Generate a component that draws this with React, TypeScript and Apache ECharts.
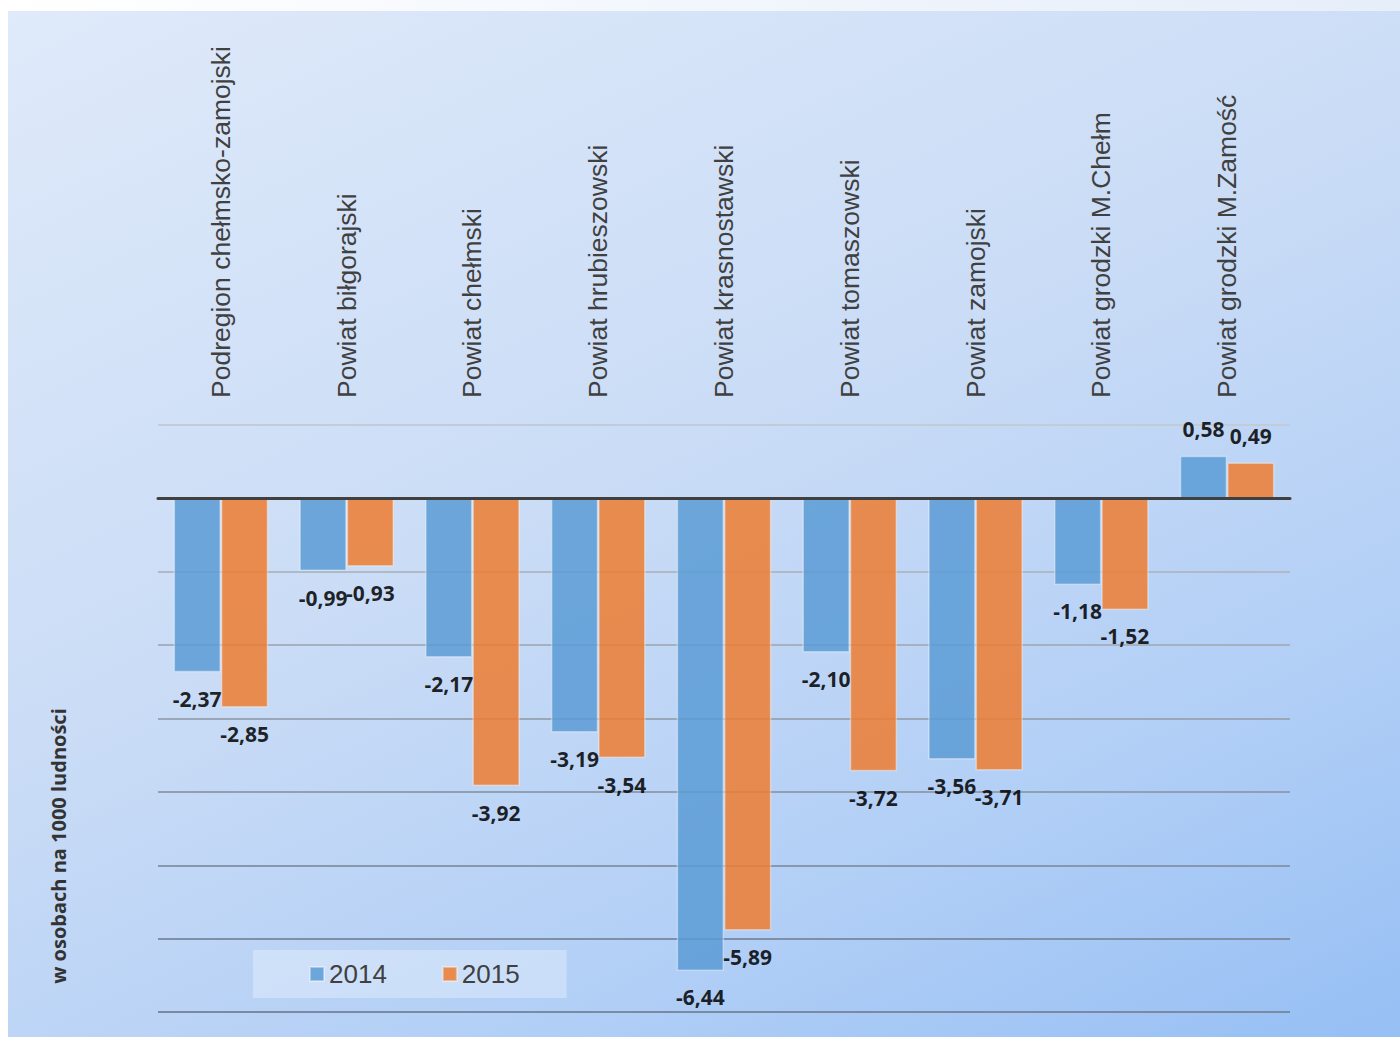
import React, { useEffect, useRef } from "react";
import * as echarts from "echarts";

const categories = [
  "Podregion chełmsko-zamojski",
  "Powiat biłgorajski",
  "Powiat chełmski",
  "Powiat hrubieszowski",
  "Powiat krasnostawski",
  "Powiat tomaszowski",
  "Powiat zamojski",
  "Powiat grodzki M.Chełm",
  "Powiat grodzki M.Zamość",
];
const values2014 = [-2.37, -0.99, -2.17, -3.19, -6.44, -2.1, -3.56, -1.18, 0.58];
const values2015 = [-2.85, -0.93, -3.92, -3.54, -5.89, -3.72, -3.71, -1.52, 0.49];
const seriesNames = ["2014", "2015"];
const yAxisTitle = "w osobach na 1000 ludności";

const fmt = (v: number) => v.toFixed(2).replace(".", ",");

export default function App() {
  const ref = useRef<HTMLDivElement>(null);
  useEffect(() => {
    document.body.style.margin = "0";
    document.body.style.overflow = "hidden";
    const chart = echarts.init(ref.current!, undefined, { renderer: "svg" });
    const labelCfg = {
      show: true,
      position: "outside",
      distance: 16,
      color: "#000",
      fontFamily: "Open Sans",
      fontWeight: 700,
      fontSize: 21,
      formatter: (p: any) => fmt(p.value),
    };
    chart.setOption({
      animation: false,
      backgroundColor: "transparent",
      grid: { left: 150, right: 110, top: 414, bottom: 25 },
      legend: {
        left: 245,
        top: 939,
        data: seriesNames,
        itemWidth: 14,
        itemHeight: 14,
        itemGap: 55,
        padding: [11, 47, 11, 56],
        backgroundColor: "rgba(255,255,255,0.3)",
        textStyle: { fontFamily: "Liberation Sans", fontSize: 26, color: "#404040" },
        icon: "rect",
      },
      xAxis: {
        type: "category",
        position: "top",
        data: categories,
        axisLine: { show: true, onZero: true, lineStyle: { color: "#404040", width: 3 } },
        axisTick: { show: false },
        axisLabel: {
          rotate: 90,
          margin: 27,
          interval: 0,
          fontFamily: "Liberation Sans",
          fontSize: 26.5,
          color: "#404040",
        },
        z: 5,
      },
      yAxis: {
        type: "value",
        min: -7,
        max: 1,
        interval: 1,
        axisLabel: { show: false },
        axisLine: { show: false },
        axisTick: { show: false },
        splitLine: {
          lineStyle: {
            width: 2,
            color: ["#7a8aa3", "#7f8fa8", "#8797ad", "#909fb3", "#9aa7b8", "#a5b0c0", "#b0b9c6", "#b8c0cc", "#c3cbd6"],
          },
        },
      },
      graphic: [
        {
          type: "text",
          x: 50,
          y: 835,
          rotation: Math.PI / 2,
          style: {
            text: yAxisTitle,
            fontFamily: "Open Sans",
            fontWeight: 700,
            fontSize: 20,
            fill: "#333",
            textAlign: "center",
            textVerticalAlign: "middle",
          },
        },
      ],
      series: [
        {
          name: seriesNames[0],
          type: "bar",
          data: values2014,
          barWidth: "37.6%",
          barGap: "0%",
          itemStyle: { color: "#5b9bd5", opacity: 0.85, borderColor: "rgba(255,255,255,0.45)", borderWidth: 1.5 },
          label: labelCfg,
        },
        {
          name: seriesNames[1],
          type: "bar",
          data: values2015,
          barWidth: "37.6%",
          barGap: "0%",
          itemStyle: { color: "#ed7d31", opacity: 0.85, borderColor: "rgba(255,255,255,0.45)", borderWidth: 1.5 },
          label: labelCfg,
        },
      ],
    });
    return () => chart.dispose();
  }, []);
  return (
    <div
      style={{
        position: "fixed",
        left: 0,
        top: 0,
        width: 1400,
        height: 1037,
        background: "linear-gradient(to right, #ffffff, #e6eefa)",
      }}
    >
      <div
        ref={ref}
        style={{
          position: "absolute",
          left: 8,
          top: 11,
          width: 1392,
          height: 1026,
          background: "linear-gradient(155deg, #dfeafa 0%, #cadcf6 45%, #b2cff6 75%, #96bff4 100%)",
        }}
      />
    </div>
  );
}
